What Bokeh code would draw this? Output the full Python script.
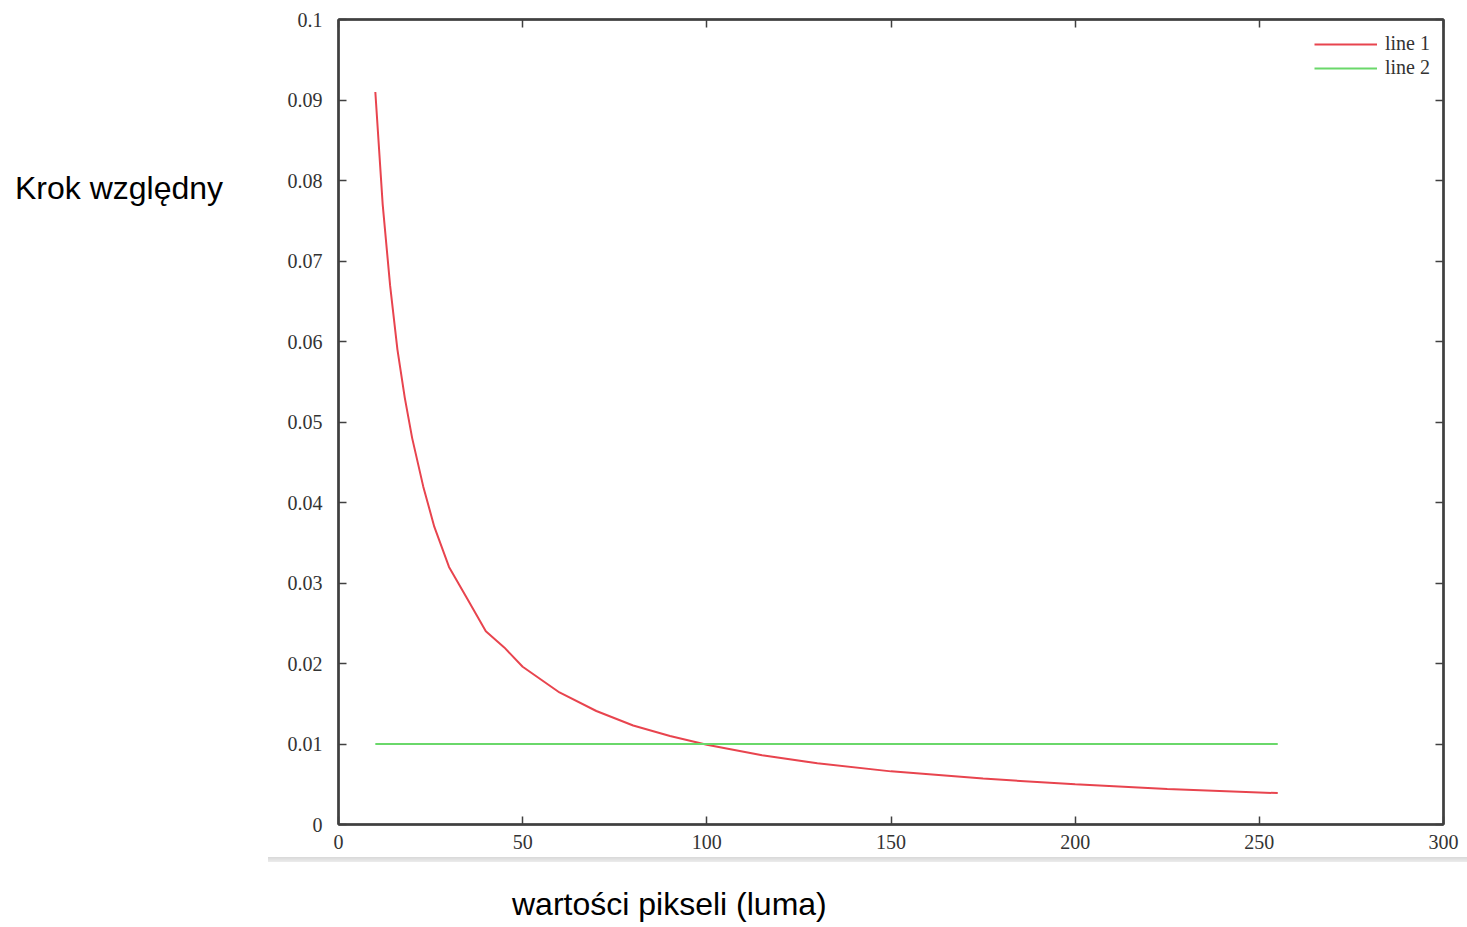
from bokeh.plotting import figure
from bokeh.layouts import row, column
from bokeh.models import (Range1d, LinearAxis, FixedTicker, CustomJSTickFormatter,
                          Legend, LegendItem, Div)
from bokeh.embed import file_html
from bokeh.resources import INLINE

# data
x_ticks = [0, 50, 100, 150, 200, 250, 300]
y_ticks = [0, 0.01, 0.02, 0.03, 0.04, 0.05, 0.06, 0.07, 0.08, 0.09, 0.1]

line1_x = [10, 12, 14, 16, 18, 20, 23, 26, 30, 35, 40, 45, 50, 60, 70, 80, 90,
           100, 115, 130, 150, 175, 200, 225, 255]
line1_y = [0.091, 0.077, 0.067, 0.059, 0.053, 0.048, 0.042, 0.037, 0.032, 0.028,
           0.024, 0.022, 0.0196, 0.0164, 0.0141, 0.0123, 0.011, 0.0099, 0.0086,
           0.0076, 0.0066, 0.0057, 0.005, 0.0044, 0.0039]
line2_x = [10, 255]
line2_y = [0.01, 0.01]

series_names = ["line 1", "line 2"]
x_title = "wartości pikseli (luma)"
y_title = "Krok względny"

AX = "#404040"
TICK_FONT = "Liberation Serif"
LEFT_W = 240
FIG_H = 857
PAGE_W, PAGE_H = 1467, 927

p = figure(width=PAGE_W - LEFT_W, height=FIG_H, output_backend="svg", toolbar_location=None,
           x_range=Range1d(0, 300), y_range=Range1d(0, 0.1),
           min_border_left=338 - LEFT_W, min_border_right=24, min_border_top=19,
           min_border_bottom=FIG_H - 824, background_fill_color="white",
           border_fill_color="white", outline_line_color=AX, outline_line_width=2)
p.grid.visible = False

r1 = p.line(line1_x, line1_y, line_color="#e8444e", line_width=2)
r2 = p.line(line2_x, line2_y, line_color="#6ad86a", line_width=2)

fmt = CustomJSTickFormatter(code="return String(Number(tick.toFixed(3)));")
blank = CustomJSTickFormatter(code="return '';")

def style(ax, ticks, labels=True):
    ax.ticker = FixedTicker(ticks=ticks)
    ax.axis_line_color = AX
    ax.axis_line_width = 2.5
    ax.major_tick_line_color = AX
    ax.major_tick_line_width = 1.5
    ax.major_tick_in = 8
    ax.major_tick_out = 0
    ax.minor_tick_line_color = None
    if labels:
        ax.major_label_text_font = TICK_FONT
        ax.major_label_text_font_size = "20px"
        ax.major_label_text_color = "#333333"
        ax.major_label_standoff = 16
        ax.formatter = fmt
    else:
        ax.formatter = blank
        ax.major_label_standoff = 0

bottom = p.below[0]
left = p.left[0]
style(bottom, x_ticks)
style(left, y_ticks)
bottom.major_label_standoff = 10

top = LinearAxis()
style(top, x_ticks, labels=False)
p.add_layout(top, "above")
right = LinearAxis()
style(right, y_ticks, labels=False)
p.add_layout(right, "right")

legend = Legend(items=[LegendItem(label=series_names[0], renderers=[r1]),
                       LegendItem(label=series_names[1], renderers=[r2])],
                location="top_right", border_line_color=None,
                background_fill_alpha=0, label_text_font=TICK_FONT,
                label_text_font_size="20px", label_text_color="#333333",
                glyph_width=63, glyph_height=20, spacing=1, padding=4,
                margin=13, label_standoff=8)
p.add_layout(legend)

ylab = Div(text=("<div style=\"padding-top:170px;padding-left:15px;"
                 "font-family:'Liberation Sans';font-size:32px;line-height:normal;"
                 "white-space:nowrap;color:black\">" + y_title + "</div>"),
           width=LEFT_W, height=PAGE_H, margin=0)

xlab = Div(text=("<div style=\"margin-left:28px;width:1199px;height:5px;"
                 "background:linear-gradient(#d8d8d8,#ececec);\"></div>"
                 "<div style=\"padding-top:24px;padding-left:272px;"
                 "font-family:'Liberation Sans';font-size:32px;line-height:normal;"
                 "white-space:nowrap;color:black\">" + x_title + "</div>"),
           width=PAGE_W - LEFT_W, height=PAGE_H - FIG_H, margin=0)

layout = row(ylab, column(p, xlab, spacing=0), spacing=0)
open("out.html", "w").write(file_html(layout, INLINE))
